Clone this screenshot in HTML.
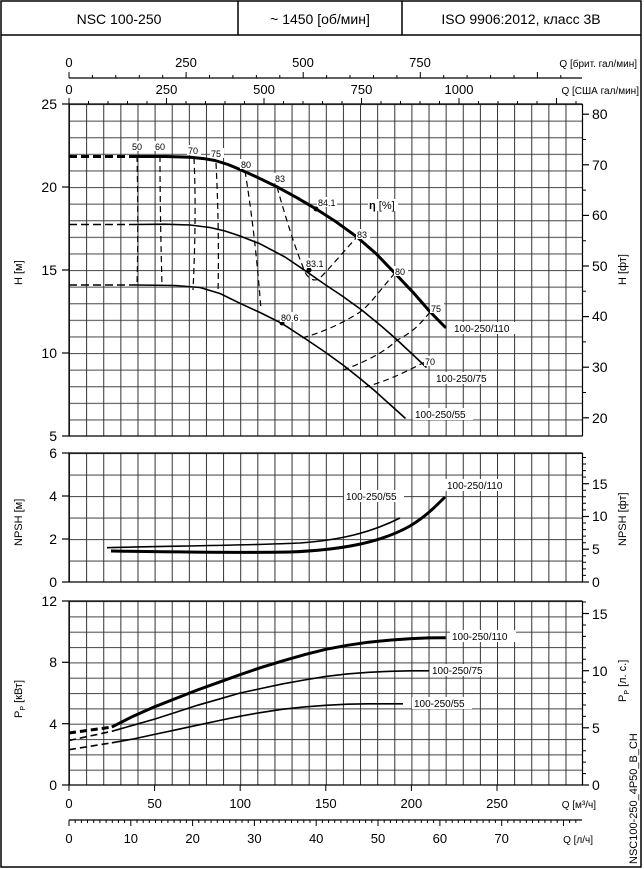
<!DOCTYPE html>
<html><head><meta charset="utf-8"><style>
html,body{margin:0;padding:0;background:#fff}
svg{display:block;font-family:"Liberation Sans",Arial,sans-serif}
</style></head><body>
<svg width="644" height="869" viewBox="0 0 644 869" xmlns="http://www.w3.org/2000/svg">
<defs>
<pattern id="vg" x="69" y="0" width="17.12" height="869" patternUnits="userSpaceOnUse"><line x1="0.5" y1="0" x2="0.5" y2="869" stroke="#333" stroke-width="1"/></pattern>
<pattern id="hH" x="0" y="104" width="644" height="16.6" patternUnits="userSpaceOnUse"><line x1="0" y1="0.5" x2="644" y2="0.5" stroke="#555" stroke-width="1.3"/></pattern>
<pattern id="hN" x="0" y="453" width="644" height="21.5" patternUnits="userSpaceOnUse"><line x1="0" y1="0.5" x2="644" y2="0.5" stroke="#555" stroke-width="1.3"/></pattern>
<pattern id="hP" x="0" y="601" width="644" height="15.33" patternUnits="userSpaceOnUse"><line x1="0" y1="0.5" x2="644" y2="0.5" stroke="#555" stroke-width="1.3"/></pattern>
</defs>
<rect x="1" y="1" width="640" height="866" fill="none" stroke="#000" stroke-width="1.5"/>
<line x1="1" y1="35" x2="641" y2="35" stroke="#000" stroke-width="1.5"/>
<line x1="238" y1="1" x2="238" y2="35" stroke="#000" stroke-width="1.5"/>
<line x1="402" y1="1" x2="402" y2="35" stroke="#000" stroke-width="1.5"/>
<g font-size="14" text-anchor="middle">
<text x="119" y="24">NSC 100-250</text>
<text x="320" y="24">~ 1450 [об/мин]</text>
<text x="521" y="24">ISO 9906:2012, класс 3B</text>
</g>

<rect x="69" y="104" width="513.5" height="332" fill="url(#hH)"/>
<rect x="69" y="104" width="513.5" height="332" fill="url(#vg)"/>
<rect x="69" y="453" width="513.5" height="129" fill="url(#hN)"/>
<rect x="69" y="453" width="513.5" height="129" fill="url(#vg)"/>
<rect x="69" y="601" width="513.5" height="184" fill="url(#hP)"/>
<rect x="69" y="601" width="513.5" height="184" fill="url(#vg)"/>
<g stroke="#000" stroke-width="1.2">
<line x1="69" y1="104" x2="69" y2="436"/><line x1="582.5" y1="104" x2="582.5" y2="436"/>
<line x1="69" y1="436" x2="582.5" y2="436"/><line x1="69" y1="104" x2="582.5" y2="104"/>
<line x1="69" y1="453" x2="69" y2="582"/><line x1="582.5" y1="453" x2="582.5" y2="582"/>
<line x1="69" y1="582" x2="582.5" y2="582"/><line x1="69" y1="453" x2="582.5" y2="453"/>
<line x1="69" y1="601" x2="69" y2="785"/><line x1="582.5" y1="601" x2="582.5" y2="785"/>
<line x1="69" y1="785" x2="582.5" y2="785"/><line x1="69" y1="601" x2="582.5" y2="601"/>
<line x1="62" y1="104" x2="69" y2="104"/><line x1="62" y1="187" x2="69" y2="187"/><line x1="62" y1="270" x2="69" y2="270"/><line x1="62" y1="353" x2="69" y2="353"/><line x1="62" y1="436" x2="69" y2="436"/>
<line x1="62" y1="453" x2="69" y2="453"/><line x1="62" y1="496" x2="69" y2="496"/><line x1="62" y1="539" x2="69" y2="539"/><line x1="62" y1="582" x2="69" y2="582"/>
<line x1="62" y1="601" x2="69" y2="601"/><line x1="62" y1="662.3" x2="69" y2="662.3"/><line x1="62" y1="723.7" x2="69" y2="723.7"/><line x1="62" y1="785" x2="69" y2="785"/>
<line x1="582" y1="114.2" x2="589" y2="114.2"/><line x1="582" y1="164.8" x2="589" y2="164.8"/><line x1="582" y1="215.4" x2="589" y2="215.4"/><line x1="582" y1="266" x2="589" y2="266"/><line x1="582" y1="316.6" x2="589" y2="316.6"/><line x1="582" y1="367.2" x2="589" y2="367.2"/><line x1="582" y1="417.8" x2="589" y2="417.8"/>
<line x1="582" y1="483.7" x2="589" y2="483.7"/><line x1="582" y1="516.5" x2="589" y2="516.5"/><line x1="582" y1="549.2" x2="589" y2="549.2"/><line x1="582" y1="582" x2="589" y2="582"/>
<line x1="582" y1="613.5" x2="589" y2="613.5"/><line x1="582" y1="670.7" x2="589" y2="670.7"/><line x1="582" y1="727.8" x2="589" y2="727.8"/><line x1="582" y1="785" x2="589" y2="785"/>
</g>
<g stroke="#000" stroke-width="1">
<path d="M582 139.5h4M582 190.1h4M582 240.7h4M582 291.3h4M582 341.9h4M582 392.5h4"/>
<path d="M582 457.5h4M582 464h4M582 470.6h4M582 477.1h4M582 490.2h4M582 496.8h4M582 503.3h4M582 509.9h4M582 523h4M582 529.6h4M582 536.1h4M582 542.7h4M582 555.8h4M582 562.3h4M582 568.9h4M582 575.4h4"/>
<path d="M582 602h4M582 625h4M582 636.4h4M582 647.8h4M582 659.3h4M582 682.1h4M582 693.6h4M582 705h4M582 716.4h4M582 739.3h4M582 750.7h4M582 762.1h4M582 773.6h4"/>
</g>
<g font-size="14" text-anchor="end">
<text x="57" y="109">25</text><text x="57" y="192">20</text><text x="57" y="275">15</text><text x="57" y="358">10</text><text x="57" y="441">5</text>
<text x="57" y="458">6</text><text x="57" y="501">4</text><text x="57" y="544">2</text><text x="57" y="587">0</text>
<text x="57" y="606">12</text><text x="57" y="667">8</text><text x="57" y="729">4</text><text x="57" y="790">0</text>
</g>
<g font-size="14">
<text x="592" y="119">80</text><text x="592" y="170">70</text><text x="592" y="220">60</text><text x="592" y="271">50</text><text x="592" y="321">40</text><text x="592" y="372">30</text><text x="592" y="423">20</text>
<text x="592" y="489">15</text><text x="592" y="521">10</text><text x="592" y="554">5</text><text x="592" y="587">0</text>
<text x="592" y="619">15</text><text x="592" y="676">10</text><text x="592" y="733">5</text><text x="592" y="790">0</text>
</g>
<g font-size="11">
<text transform="translate(22,285) rotate(-90)">H [м]</text>
<text transform="translate(22,546) rotate(-90)">NPSH [м]</text>
<text transform="translate(22,718) rotate(-90)">P<tspan font-size="7" dy="3">P</tspan><tspan dy="-3"> [кВт]</tspan></text>
<text transform="translate(626,285) rotate(-90)">H [фт]</text>
<text transform="translate(626,546) rotate(-90)">NPSH [фт]</text>
<text transform="translate(626,702) rotate(-90)">P<tspan font-size="7" dy="3">P</tspan><tspan dy="-3"> [л. с.]</tspan></text>
<text transform="translate(637,864) rotate(-90)" font-size="11">NSC100-250_4P50_B_CH</text>
</g>

<g stroke="#000" stroke-width="1">
<line x1="69" y1="78" x2="582" y2="78" stroke-width="1.2"/>
<path d="M69 78v-6M186.1 78v-6M303.2 78v-6M420.3 78v-6M537.4 78v-6"/>
<path d="M92.4 78v-3M115.8 78v-3M139.3 78v-3M162.7 78v-3M209.5 78v-3M232.9 78v-3M256.4 78v-3M279.8 78v-3M326.6 78v-3M350 78v-3M373.5 78v-3M396.9 78v-3M443.7 78v-3M467.1 78v-3M490.6 78v-3M514 78v-3M560.8 78v-3"/>
<path d="M69 104v-6M166.5 104v-6M264 104v-6M361.5 104v-6M459 104v-6M556.5 104v-6"/>
<path d="M88.5 104v-3M108 104v-3M127.5 104v-3M147 104v-3M186 104v-3M205.5 104v-3M225 104v-3M244.5 104v-3M283.5 104v-3M303 104v-3M322.5 104v-3M342 104v-3M381 104v-3M400.5 104v-3M420 104v-3M439.5 104v-3M478.5 104v-3M498 104v-3M517.5 104v-3M537 104v-3M576 104v-3"/>
</g>
<g font-size="13" text-anchor="middle">
<text x="69" y="67">0</text><text x="186" y="67">250</text><text x="303" y="67">500</text><text x="420" y="67">750</text>
<text x="69" y="94">0</text><text x="166.5" y="94">250</text><text x="264" y="94">500</text><text x="361.5" y="94">750</text><text x="459" y="94">1000</text>
</g>
<g font-size="10" text-anchor="end">
<text x="637" y="67">Q [брит. гал/мин]</text>
<text x="639" y="94">Q [США гал/мин]</text>
</g>

<g stroke="#000" stroke-width="1">
<path d="M69 785v6M154.6 785v6M240.2 785v6M325.8 785v6M411.4 785v6M497 785v6"/>
<line x1="69" y1="820" x2="582" y2="820" stroke-width="1.2"/>
<path d="M69 820v6M130.8 820v6M192.6 820v6M254.4 820v6M316.2 820v6M378 820v6M439.9 820v6M501.7 820v6M563.5 820v6"/>
<path d="M75.2 820v3M81.4 820v3M87.5 820v3M93.7 820v3M99.9 820v3M106.1 820v3M112.3 820v3M118.4 820v3M124.6 820v3M137 820v3M143.2 820v3M149.3 820v3M155.5 820v3M161.7 820v3M167.9 820v3M174.1 820v3M180.2 820v3M186.4 820v3M198.8 820v3M205 820v3M211.1 820v3M217.3 820v3M223.5 820v3M229.7 820v3M235.9 820v3M242 820v3M248.2 820v3M260.6 820v3M266.8 820v3M272.9 820v3M279.1 820v3M285.3 820v3M291.5 820v3M297.7 820v3M303.8 820v3M310 820v3M322.4 820v3M328.6 820v3M334.7 820v3M340.9 820v3M347.1 820v3M353.3 820v3M359.5 820v3M365.6 820v3M371.8 820v3M384.2 820v3M390.4 820v3M396.5 820v3M402.7 820v3M408.9 820v3M415.1 820v3M421.3 820v3M427.4 820v3M433.6 820v3M446 820v3M452.2 820v3M458.3 820v3M464.5 820v3M470.7 820v3M476.9 820v3M483.1 820v3M489.2 820v3M495.4 820v3M507.8 820v3M514 820v3M520.1 820v3M526.3 820v3M532.5 820v3M538.7 820v3M544.9 820v3M551 820v3M557.2 820v3M569.6 820v3M575.8 820v3"/>
</g>
<g font-size="13" text-anchor="middle">
<text x="69" y="808">0</text><text x="154.6" y="808">50</text><text x="240.2" y="808">100</text><text x="325.8" y="808">150</text><text x="411.4" y="808">200</text><text x="497" y="808">250</text>
<text x="69" y="843">0</text><text x="130.8" y="843">10</text><text x="192.6" y="843">20</text><text x="254.4" y="843">30</text><text x="316.2" y="843">40</text><text x="378" y="843">50</text><text x="439.9" y="843">60</text><text x="501.7" y="843">70</text>
</g>
<g font-size="10" text-anchor="end">
<text x="596" y="808">Q [м³/ч]</text>
<text x="593" y="843">Q [л/ч]</text>
</g>

<!-- H curves -->
<g fill="none" stroke="#000" stroke-linejoin="round" stroke-linecap="round">
<path d="M69 156.5H135" stroke-width="3" stroke-dasharray="8,4" stroke-linecap="butt"/>
<polyline points="135,156.5 165,156.5 190,157.3 205,158.8 215,160.5 228,164.5 240,169.5 258,177.6 276.7,186.7 296,197.2 315,208.3 336,221.8 356.7,236.7 376,253.6 395,273.3 413,292.3 430,311.7 445,327" stroke-width="3"/>
<path d="M69 224.5H135" stroke-width="1.6" stroke-dasharray="8,4" stroke-linecap="butt"/>
<polyline points="135,224.5 165,224.2 190,225 210,227.5 225,231 240,236 260,243.8 285,257 306.7,271.7 325,284.5 343,296.5 361.7,310 380,325 395,338 410,352 426,367" stroke-width="1.6"/>
<path d="M69 285H135" stroke-width="1.6" stroke-dasharray="8,4" stroke-linecap="butt"/>
<polyline points="135,285 175,285.5 200,287.5 220,293.5 240,303.3 260,312.5 281.7,323.3 305,338.5 325,352 343,365 360,378.5 375,391 390,404.5 405,418" stroke-width="1.6"/>
<g stroke-width="1.2" stroke-dasharray="6,4" stroke-linecap="butt">
<path d="M137 156C138 200 138 250 137 285"/>
<path d="M160 156C160 200 161 250 162 285"/>
<path d="M194 158C196 200 195 250 193 290"/>
<path d="M216 163C218 200 219 250 218 293"/>
<path d="M245 171C253 220 258 270 261 310"/>
<path d="M277 187C285 215 294 245 303 267C306 278 314 283 320 278C330 268 345 250 357 237"/>
<path d="M395 273C380 290 370 305 360 312C340 325 320 333 302 338"/>
<path d="M430 312C420 325 410 334 397 340C385 352 365 362 343 370"/>
<path d="M425 362C405 372 390 380 365 387"/>
</g>
</g>
<g fill="#000"><circle cx="316" cy="209" r="2.5"/><circle cx="309" cy="270" r="2.5"/><circle cx="282" cy="323" r="2.5"/></g>
<g font-size="9" fill="#000">
<rect x="131" y="141" width="14" height="10" fill="#fff"/><text x="132" y="150">50</text>
<rect x="154" y="141" width="14" height="10" fill="#fff"/><text x="155" y="150">60</text>
<rect x="187" y="145" width="14" height="10" fill="#fff"/><text x="188" y="154">70</text>
<rect x="210" y="148" width="14" height="10" fill="#fff"/><text x="211" y="157">75</text>
<rect x="240" y="159" width="14" height="10" fill="#fff"/><text x="241" y="168">80</text>
<rect x="274" y="173" width="14" height="10" fill="#fff"/><text x="275" y="182">83</text>
<rect x="317" y="197" width="20" height="10" fill="#fff"/><text x="318" y="206">84.1</text>
<rect x="356" y="229" width="14" height="10" fill="#fff"/><text x="357" y="238">83</text>
<rect x="305" y="258" width="20" height="10" fill="#fff"/><text x="306" y="267">83.1</text>
<rect x="394" y="266" width="14" height="10" fill="#fff"/><text x="395" y="275">80</text>
<rect x="280" y="312" width="20" height="10" fill="#fff"/><text x="281" y="321">80.6</text>
<rect x="430" y="303" width="14" height="10" fill="#fff"/><text x="431" y="312">75</text>
<rect x="424" y="356" width="14" height="10" fill="#fff"/><text x="425" y="365">70</text>
<rect x="368" y="199" width="30" height="12" fill="#fff"/><text x="369" y="209" font-size="11"><tspan font-weight="bold">η</tspan> [%]</text>
</g>
<g font-size="10">
<rect x="452" y="322" width="66" height="12" fill="#fff"/><text x="454" y="332">100-250/110</text>
<rect x="434" y="372" width="60" height="12" fill="#fff"/><text x="436" y="382">100-250/75</text>
<rect x="413" y="408" width="60" height="12" fill="#fff"/><text x="415" y="418">100-250/55</text>
</g>

<!-- NPSH -->
<g fill="none" stroke="#000" stroke-linejoin="round">
<path d="M107 547.7C180 546 260 545 300 543C340 540 370 533 400 518" stroke-width="1.6"/>
<path d="M111 551C180 552 240 553 290 552C340 550 380 543 410 526C425 517 435 507 445 497" stroke-width="3"/>
</g>
<g font-size="10">
<rect x="344" y="490" width="60" height="12" fill="#fff"/><text x="346" y="500">100-250/55</text>
<rect x="445" y="479" width="66" height="12" fill="#fff"/><text x="447" y="489">100-250/110</text>
</g>

<!-- Power -->
<g fill="none" stroke="#000" stroke-linejoin="round">
<path d="M69 733L111.8 727.1" stroke-width="3" stroke-dasharray="7,4"/>
<polyline points="111.8,727.1 133.2,716.2 154.6,706.8 176,698.4 197.4,690 218.8,682.3 240.2,674.6 261.6,667.3 283,660.8 304.4,654.7 325.8,649.3 347.2,645.3 368.6,642.2 390,640.1 411.4,638.6 428.5,637.9 445.6,637.8" stroke-width="3"/>
<path d="M69 740.5L111.8 731.3" stroke-width="1.6" stroke-dasharray="7,4"/>
<polyline points="111.8,731.3 133.2,725.2 154.6,719.1 176,712.2 197.4,705.3 218.8,699.2 240.2,693 261.6,688.4 283,683.8 304.4,680 325.8,676.4 347.2,673.9 368.6,672.3 390,671.3 411.4,670.8 429,670.8" stroke-width="1.6"/>
<path d="M69 749.7L111.8 742.8" stroke-width="1.6" stroke-dasharray="7,4"/>
<polyline points="111.8,742.8 133.2,739 154.6,734.4 176,729.8 197.4,725.2 218.8,720.6 240.2,716.2 261.6,712.4 283,709.2 304.4,706.9 325.8,705.3 347.2,704.2 368.6,703.8 403,703.8" stroke-width="1.6"/>
</g>
<g font-size="10">
<rect x="450" y="630" width="66" height="12" fill="#fff"/><text x="452" y="640">100-250/110</text>
<rect x="430" y="664" width="60" height="12" fill="#fff"/><text x="432" y="674">100-250/75</text>
<rect x="412" y="697" width="60" height="12" fill="#fff"/><text x="414" y="707">100-250/55</text>
</g>
</svg>
</body></html>
